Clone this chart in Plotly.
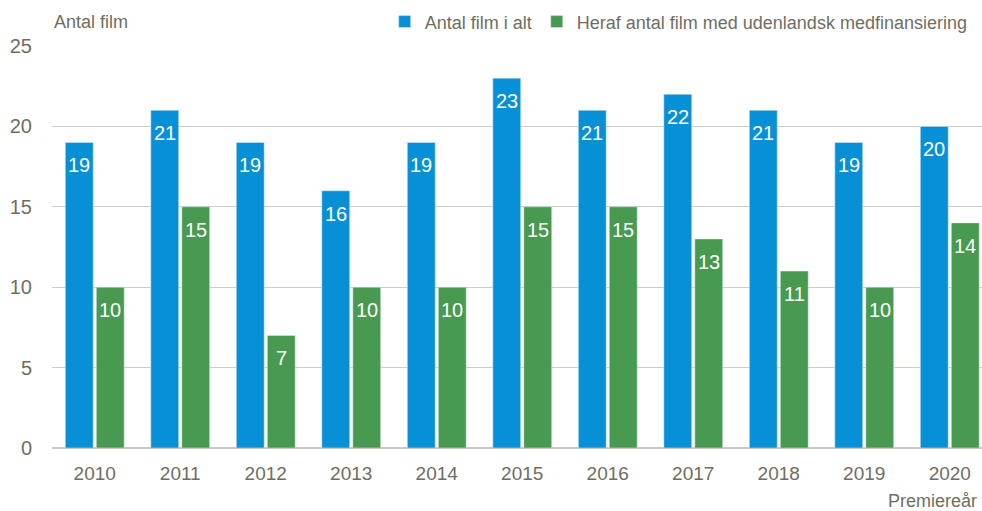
import plotly.graph_objects as go

years = ["2010", "2011", "2012", "2013", "2014", "2015", "2016", "2017", "2018", "2019", "2020"]
total = [19, 21, 19, 16, 19, 23, 21, 22, 21, 19, 20]
foreign = [10, 15, 7, 10, 10, 15, 15, 13, 11, 10, 14]
y_ticks = [0, 5, 10, 15, 20, 25]

FONT = "Liberation Sans, Arial, sans-serif"
GREY = "#6e6e60"
BLUE = "#0890d6"
GREEN = "#479a50"

fig = go.Figure()
fig.add_trace(go.Bar(x=years, y=total, name="Antal film i alt", marker_color=BLUE))
fig.add_trace(go.Bar(x=years, y=foreign, name="Heraf antal film med udenlandsk medfinansiering",
                     marker_color=GREEN))

annotations = []
for series, shift in ((total, -15.5), (foreign, 15.5)):
    for i, v in enumerate(series):
        annotations.append(dict(x=i, y=v, xref="x", yref="y", text=str(v), showarrow=False,
                                xshift=shift, yshift=-23, yanchor="middle", xanchor="center",
                                font=dict(color="white", size=20, family=FONT)))

annotations += [
    dict(text="Antal film", xref="paper", yref="paper", x=0, y=1.06, xanchor="left", yanchor="middle",
         showarrow=False, font=dict(size=18, color=GREY, family=FONT)),
    dict(text="Premiereår", xref="paper", yref="paper", x=0.997, y=-0.103, xanchor="right", yanchor="top",
         showarrow=False, font=dict(size=18, color=GREY, family=FONT)),
]

fig.update_layout(
    width=982, height=511,
    margin=dict(l=52, r=0, t=46, b=63, autoexpand=False),
    plot_bgcolor="white", paper_bgcolor="white",
    barmode="group", bargap=0.275, bargroupgap=0.1,
    font=dict(family=FONT, color=GREY, size=19),
    showlegend=True,
    legend=dict(orientation="h", x=0.99, xanchor="right", y=1.06, yanchor="middle",
                font=dict(size=18, color=GREY, family=FONT), itemwidth=30,
                bgcolor="rgba(0,0,0,0)", traceorder="normal"),
    xaxis=dict(type="category", range=[-0.5, 10.377], showgrid=False, showline=False, zeroline=False,
               ticks="", tickfont=dict(size=19, color=GREY), ticklabelstandoff=12),
    yaxis=dict(range=[0, 25], tickvals=y_ticks, showgrid=True, gridcolor="#cdcdc3", gridwidth=1.2,
               zeroline=True, zerolinecolor="#c8c8c0", zerolinewidth=2,
               ticks="", tickfont=dict(size=20, color=GREY), ticklabelstandoff=19),
    annotations=annotations,
)

fig.write_html("out.html")
